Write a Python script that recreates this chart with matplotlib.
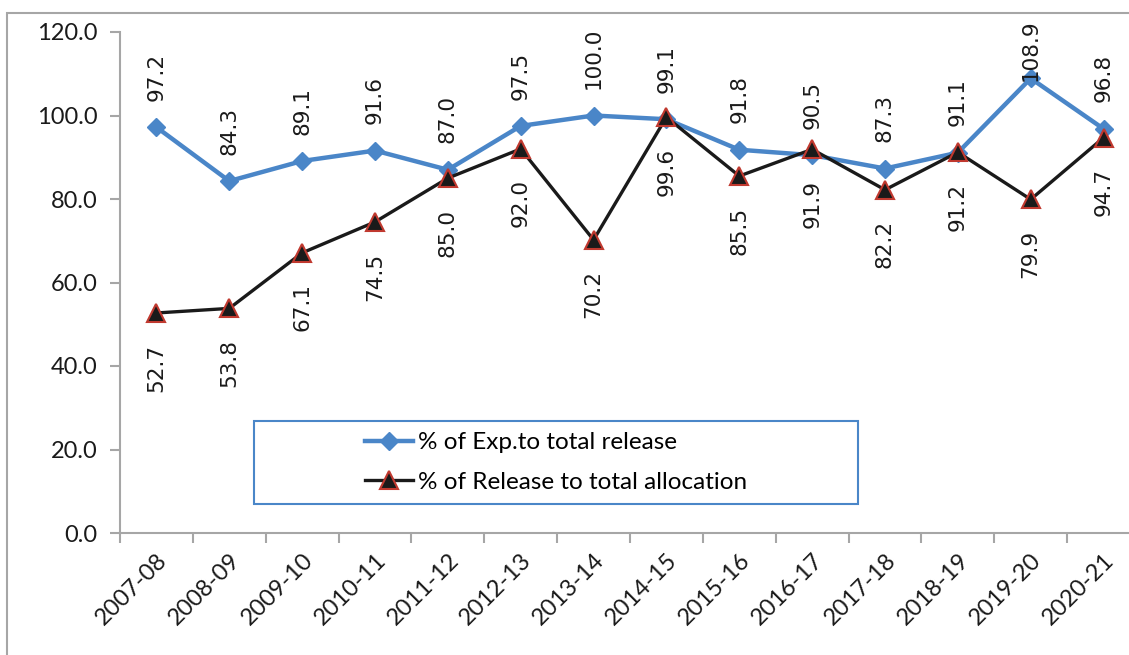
import numpy as np
import matplotlib
matplotlib.use("Agg")
import matplotlib.pyplot as plt
from matplotlib.patches import Rectangle

years = ["2007-08", "2008-09", "2009-10", "2010-11", "2011-12", "2012-13", "2013-14",
         "2014-15", "2015-16", "2016-17", "2017-18", "2018-19", "2019-20", "2020-21"]
exp_release = [97.2, 84.3, 89.1, 91.6, 87.0, 97.5, 100.0, 99.1, 91.8, 90.5, 87.3, 91.1, 108.9, 96.8]
release_alloc = [52.7, 53.8, 67.1, 74.5, 85.0, 92.0, 70.2, 99.6, 85.5, 91.9, 82.2, 91.2, 79.9, 94.7]

W, H = 1129, 655
fig = plt.figure(figsize=(W / 100, H / 100), dpi=100)
ax = fig.add_axes([120 / W, (H - 533) / H, 1020 / W, (533 - 32) / H])

blue = "#4a86c8"
gray = "#a6a6a6"
x = np.arange(len(years))

ax.plot(x, exp_release, color=blue, lw=3.2, marker="D", ms=9.5, mfc=blue, mec=blue,
        label="% of Exp.to total release", zorder=3)
ax.plot(x, release_alloc, color="#1a1a1a", lw=2.4, marker="^", ms=13, mfc="#1a1a1a",
        mec="#c0392f", mew=1.5, label="% of Release to total allocation", zorder=4)

# data labels
lab_fs = 15.5
for i, v in enumerate(exp_release):
    if v > 105:
        ax.annotate(f"{v:.1f}", (i, 123), ha="center", va="top", rotation=90,
                    fontsize=lab_fs, color="#1a1a1a", annotation_clip=False, zorder=6)
    else:
        ax.annotate(f"{v:.1f}", (i, v), xytext=(0, 19), textcoords="offset points",
                    ha="center", va="bottom", rotation=90, fontsize=lab_fs, color="#1a1a1a",
                    annotation_clip=False)
for i, v in enumerate(release_alloc):
    ax.annotate(f"{v:.1f}", (i, v), xytext=(0, -22), textcoords="offset points",
                ha="center", va="top", rotation=90, fontsize=lab_fs, color="#1a1a1a",
                annotation_clip=False)

ax.set_xlim(-0.5, len(years) - 0.5)
ax.set_ylim(0, 120)
ax.set_yticks(np.arange(0, 121, 20))
ax.set_yticklabels([f"{t:.1f}" for t in np.arange(0, 121, 20)], family="Lato",
                   fontsize=17, color="#1a1a1a")
ax.set_xticks(np.arange(-0.5, len(years), 1))
ax.set_xticklabels([])
ax.set_xticks(x, minor=True)
ax.set_xticklabels(years, minor=True, rotation=45, ha="right", va="top",
                   rotation_mode="anchor", family="Lato", fontsize=17, color="#1a1a1a")
ax.tick_params(axis="x", which="major", length=7, width=1.5, color=gray, direction="out")
ax.tick_params(axis="x", which="minor", length=0, pad=12)
ax.tick_params(axis="y", length=7, width=1.5, color=gray, direction="out", pad=9)
for s in ["top", "right"]:
    ax.spines[s].set_visible(False)
for s in ["left", "bottom"]:
    ax.spines[s].set_color(gray)
    ax.spines[s].set_linewidth(1.5)

# outer chart border
fig.patches.append(Rectangle((7 / W, -0.05), 1.1, (H - 13) / H + 0.05, transform=fig.transFigure,
                             fill=False, ec=gray, lw=1.5))

# legend box
lx0, lx1, ly0, ly1 = 254, 858, 421, 504
fig.patches.append(Rectangle((lx0 / W, (H - ly1) / H), (lx1 - lx0) / W, (ly1 - ly0) / H,
                             transform=fig.transFigure, fill=False, ec=blue, lw=1.5, zorder=5))
ax.legend(loc="center", bbox_to_anchor=((lx0 + lx1) / 2 / W, (H - (ly0 + ly1) / 2) / H),
          bbox_transform=fig.transFigure, frameon=False, prop={"family": "Lato", "size": 17.5},
          handlelength=2.0, handletextpad=0.2, labelspacing=0.75, borderpad=0)

fig.savefig("out.png", dpi=100)
